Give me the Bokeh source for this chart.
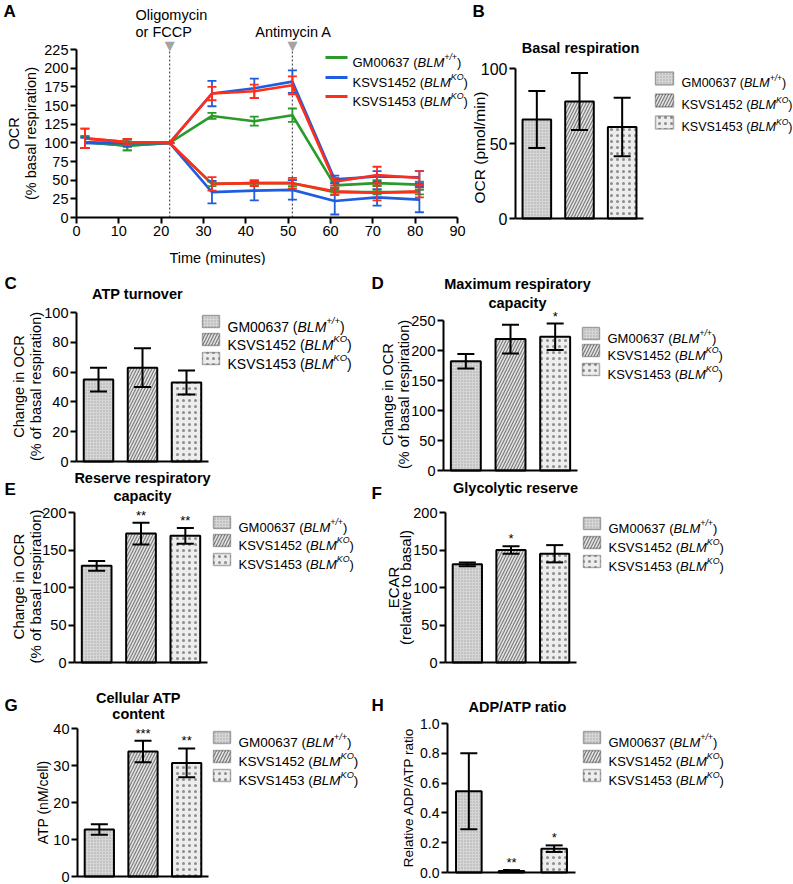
import math
from bokeh.plotting import figure
from bokeh.layouts import row, column
from bokeh.models import (Range1d, Label, BoxAnnotation, Whisker, TeeHead,
                          ColumnDataSource, FixedTicker, PrintfTickFormatter)
from bokeh.embed import file_html
from bokeh.resources import INLINE

FONT = "Liberation Sans"

# ---------------- data ----------------
cell_lines = ["GM00637", "KSVS1452", "KSVS1453"]
genotypes = ["+/+", "KO", "KO"]

# Panel A: OCR time course (% basal respiration)
time_min = [2, 12, 22, 32, 42, 51, 61, 71, 81]
gm_fccp = [101, 96, 100, 136, 129, 137, 43, 46, 44]
gm_fccp_err = [8, 6, 0, 4, 6, 9, 4, 4, 4]
gm_oligo = [101, 96, 100, 45, 46, 46, 34, 34, 34]
gm_oligo_err = [8, 6, 0, 3, 3, 4, 3, 3, 3]
k52_fccp = [100, 100, 100, 166, 173, 182, 51, 55, 54]
k52_fccp_err = [7, 5, 0, 17, 13, 15, 5, 7, 8]
k52_oligo = [100, 100, 100, 34, 36, 37, 22, 27, 24]
k52_oligo_err = [7, 5, 0, 15, 13, 13, 18, 11, 17]
k53_fccp = [106, 101, 100, 166, 169, 177, 48, 57, 53]
k53_fccp_err = [13, 4, 0, 9, 9, 12, 5, 11, 9]
k53_oligo = [106, 101, 100, 45, 46, 46, 35, 33, 35]
k53_oligo_err = [13, 4, 0, 9, 4, 7, 5, 10, 8]
injection_times = [22, 51]
a_xticks = [0, 10, 20, 30, 40, 50, 60, 70, 80, 90]
a_yticks = [0, 25, 50, 75, 100, 125, 150, 175, 200, 225]

# Panels B-H: bar charts (mean, error, significance)
basal = [66, 78, 61]
basal_err = [19, 19, 19.5]
basal_sig = ["", "", ""]
atp_turnover = [55, 63, 53]
atp_turnover_err = [8, 13, 8]
atp_turnover_sig = ["", "", ""]
max_resp = [182, 219, 223]
max_resp_err = [12, 24, 22]
max_resp_sig = ["", "", "*"]
reserve_resp = [129, 172, 169]
reserve_resp_err = [6.5, 14.5, 10.5]
reserve_resp_sig = ["", "**", "**"]
glyco_reserve = [131, 150, 145]
glyco_reserve_err = [2.5, 5, 11.5]
glyco_reserve_sig = ["", "*", ""]
atp_content = [12.7, 33.8, 30.7]
atp_content_err = [1.4, 2.9, 3.9]
atp_content_sig = ["", "***", "**"]
adp_atp = [0.545, 0.01, 0.16]
adp_atp_err = [0.255, 0.006, 0.022]
adp_atp_sig = ["", "**", "*"]

# ---------------- style ----------------
line_colors = ["#2a9a2a", "#1f5de0", "#ff2d1a"]
bar_fill = ["#d6d6d6", "#e3e3e3", "#ededed"]
bar_hatch = ["dot", "right_diagonal_line", "dot"]
bar_hcolor = ["#a5a5a5", "#7c7c7c", "#8e8e8e"]
bar_hscale = [3, 6, 6]
bar_hweight = [0.9, 1.2, 1.3]

W = {' ': 278, '(': 333, ')': 333, '+': 584, '/': 278, 'A': 667, 'B': 667, 'C': 722,
     'D': 722, 'E': 667, 'F': 611, 'G': 778, 'H': 722, 'I': 278, 'K': 667, 'L': 556,
     'M': 833, 'N': 722, 'O': 778, 'P': 667, 'R': 722, 'S': 667, 'T': 611, 'V': 667}


def tw(s, size):
    return sum(W.get(c, 556) for c in s) * size / 1000.0


def make_panel(fig_box, frame_box, xr, yr):
    """Figure whose frame fills the canvas; data box placed at frame_box (page px)."""
    fx0, fy0, fx1, fy1 = fig_box
    l, t, r, b = frame_box
    x0, x1 = xr
    y0, y1 = yr
    kx = (x1 - x0) / (r - l)
    ky = (y1 - y0) / (b - t)
    X = Range1d(x0 - (l - fx0) * kx, x1 + (fx1 - r) * kx)
    Y = Range1d(y0 - (fy1 - b) * ky, y1 + (t - fy0) * ky)
    p = figure(width=fx1 - fx0, height=fy1 - fy0, x_range=X, y_range=Y,
               output_backend="svg", toolbar_location=None,
               min_border_left=0, min_border_right=0, min_border_top=0, min_border_bottom=0)
    p.title.visible = False
    p.outline_line_color = None
    p.xgrid.visible = False
    p.ygrid.visible = False
    p.background_fill_color = "white"
    p.border_fill_color = "white"
    p.xaxis.fixed_location = y0
    p.xaxis.bounds = (x0, x1)
    p.yaxis.fixed_location = x0
    p.yaxis.bounds = (y0, y1)
    return p, (fx0, fy1)


def txt(p, fr, x, y, text, size, style="normal", align="left", baseline="middle",
        angle=0.0, color="black", font=FONT):
    l, b = fr
    p.add_layout(Label(x=x - l, y=b - y, x_units="screen", y_units="screen", text=text,
                       text_font=font, text_font_size=f"{size}px", text_font_style=style,
                       text_align=align, text_baseline=baseline, angle=angle,
                       text_color=color))


def style_axes(p, size, yticks, xticks=None, fmt=None):
    for ax in p.axis:
        ax.axis_line_width = 2
        ax.axis_line_color = "black"
        ax.major_tick_line_width = 2
        ax.major_tick_out = 6
        ax.major_tick_in = 0
        ax.minor_tick_out = 0
        ax.minor_tick_in = 0
        ax.major_label_text_font = FONT
        ax.major_label_text_font_size = f"{size}px"
        ax.major_label_text_color = "black"
        ax.major_label_standoff = 2
    p.yaxis[0].ticker = FixedTicker(ticks=yticks)
    if fmt:
        p.yaxis[0].formatter = PrintfTickFormatter(format=fmt)
    if xticks is None:
        xa = p.xaxis[0]
        xa.ticker = FixedTicker(ticks=[])
        xa.major_tick_out = 0
        xa.major_label_text_font_size = "0px"
    else:
        p.xaxis[0].ticker = FixedTicker(ticks=xticks)


def genotype_text(p, fr, x, yc, i, size):
    base = yc + 0.36 * size
    l, b = fr
    parts = [(cell_lines[i] + " (", "normal", size, 0),
             ("BLM", "italic", size, 0),
             (genotypes[i], "italic", size * 0.68, size * 0.42),
             (")", "normal", size, 0)]
    cx = x
    for s, st, sz, rise in parts:
        p.add_layout(Label(x=cx - l, y=b - base + rise, x_units="screen", y_units="screen",
                           text=s, text_font=FONT, text_font_size=f"{sz:.1f}px",
                           text_font_style=st, text_align="left",
                           text_baseline="alphabetic", text_color="black"))
        cx += tw(s, sz)


# ---------------- Panel A ----------------
pA, frA = make_panel((0, 0, 470, 265), (76, 49, 457, 217), (0, 90), (0, 225))
style_axes(pA, 14.5, a_yticks, a_xticks)
pA.segment(x0=injection_times, y0=[0, 0], x1=injection_times, y1=[225, 225],
           line_dash="2 2", line_color="#555555", line_width=1.2)
series = [(gm_fccp, gm_fccp_err, gm_oligo, gm_oligo_err),
          (k52_fccp, k52_fccp_err, k52_oligo, k52_oligo_err),
          (k53_fccp, k53_fccp_err, k53_oligo, k53_oligo_err)]
for i, (f, fe, o, oe) in enumerate(series):
    c = line_colors[i]
    for vals, errs in ((f, fe), (o, oe)):
        src = ColumnDataSource(dict(x=time_min, y=vals,
                                    lo=[v - e for v, e in zip(vals, errs)],
                                    hi=[v + e for v, e in zip(vals, errs)]))
        pA.line("x", "y", source=src, line_color=c, line_width=2.6)
        pA.add_layout(Whisker(source=src, base="x", upper="hi", lower="lo",
                              line_color=c, line_width=1.8, level="glyph",
                              upper_head=TeeHead(size=9, line_color=c, line_width=1.8),
                              lower_head=TeeHead(size=9, line_color=c, line_width=1.8)))
txt(pA, frA, 3, 11, "A", 17, "bold")
txt(pA, frA, 135, 14, "Oligomycin", 14.5)
txt(pA, frA, 135, 31, "or FCCP", 14.5)
txt(pA, frA, 293, 31, "Antimycin A", 14.5, align="center")
for tm in injection_times:
    pA.add_layout(Label(x=tm, x_units="data", y=frA[1] - 45, y_units="screen", text="▼",
                        text_font="DejaVu Sans", text_font_size="13px", text_align="center",
                        text_baseline="middle", text_color="#a3a3a3"))
txt(pA, frA, 13, 133, "OCR", 14.5, align="center", angle=math.pi / 2)
txt(pA, frA, 30, 133, "(% basal respiration)", 14.5, align="center", angle=math.pi / 2)
txt(pA, frA, 217, 257, "Time (minutes)", 14.5, align="center")
for i, yc in enumerate([57, 77, 96]):
    l, b = frA
    pA.add_layout(BoxAnnotation(left=325 - l, right=347 - l, top=b - yc + 1.5, bottom=b - yc - 1.5,
                                left_units="screen", right_units="screen", top_units="screen",
                                bottom_units="screen", fill_color=line_colors[i], fill_alpha=1,
                                line_color=None, level="overlay"))
    genotype_text(pA, frA, 352, yc, i, 13)


# ---------------- bar panels ----------------
def bar_panel(fig_box, frame_box, yr, yticks, means, errs, sig, tick_size, letter,
              titles, ylabels, legend, fmt=None, bar_w=0.67, cap=17):
    p, fr = make_panel(fig_box, frame_box, (0.5, 3.5), yr)
    style_axes(p, tick_size, yticks, None, fmt)
    src = ColumnDataSource(dict(x=[1, 2, 3], top=means,
                                lo=[m - e for m, e in zip(means, errs)],
                                hi=[m + e for m, e in zip(means, errs)],
                                fill=bar_fill, hatch=bar_hatch, hcolor=bar_hcolor,
                                hscale=bar_hscale, hweight=bar_hweight))
    p.vbar(x="x", top="top", width=bar_w, source=src, fill_color="fill", line_color="black",
           line_width=2, hatch_pattern="hatch", hatch_color="hcolor", hatch_scale="hscale",
           hatch_weight="hweight")
    p.add_layout(Whisker(source=src, base="x", upper="hi", lower="lo", line_color="black",
                         line_width=2, level="annotation",
                         upper_head=TeeHead(size=cap, line_color="black", line_width=2),
                         lower_head=TeeHead(size=cap, line_color="black", line_width=2)))
    for i in range(3):
        if sig[i]:
            p.add_layout(Label(x=i + 1, x_units="data", y=means[i] + errs[i], y_units="data",
                               y_offset=0, text=sig[i], text_font=FONT, text_font_size="13px",
                               text_align="center", text_baseline="bottom", text_color="black"))
    lx, ly, ltxt = letter
    txt(p, fr, lx, ly, ltxt, 17, "bold")
    for (s, x, y) in titles:
        txt(p, fr, x, y, s, 14.5, "bold", align="center")
    for (s, x, y, sz) in ylabels:
        txt(p, fr, x, y, s, sz, align="center", angle=math.pi / 2)
    bx, ys, lsz, bw, bh = legend
    l, b = fr
    for i, yc in enumerate(ys):
        p.add_layout(BoxAnnotation(left=bx - l, right=bx + bw - l, top=b - yc + bh / 2,
                                   bottom=b - yc - bh / 2, left_units="screen",
                                   right_units="screen", top_units="screen",
                                   bottom_units="screen", fill_color=bar_fill[i], fill_alpha=1,
                                   line_color="black", line_width=1.5,
                                   hatch_pattern=bar_hatch[i], hatch_color=bar_hcolor[i],
                                   hatch_scale=bar_hscale[i], hatch_weight=bar_hweight[i],
                                   level="overlay"))
        genotype_text(p, fr, bx + bw + 8, yc, i, lsz)
    return p


pB = bar_panel((470, 0, 793, 265), (515, 68, 643, 218), (0, 100), [0, 50, 100],
               basal, basal_err, basal_sig, 16, (472, 11, "B"),
               [("Basal respiration", 580, 47)],
               [("OCR (pmol/min)", 479, 147, 15.5)],
               (655, [78, 100, 122], 12.5, 18, 13))
pC = bar_panel((0, 265, 370, 469), (76, 312, 208, 461), (0, 100), [0, 20, 40, 60, 80, 100],
               atp_turnover, atp_turnover_err, atp_turnover_sig, 14.5, (4, 283, "C"),
               [("ATP turnover", 137, 293)],
               [("Change in OCR", 18, 386, 14.5), ("(% of basal respiration)", 35, 386, 14.5)],
               (202, [321, 339, 358], 14, 17, 12))
pD = bar_panel((370, 265, 793, 480), (443, 320, 577, 470), (0, 250), [0, 50, 100, 150, 200, 250],
               max_resp, max_resp_err, max_resp_sig, 14.5, (371, 283, "D"),
               [("Maximum respiratory", 517, 283), ("capacity", 517, 302)],
               [("Change in OCR", 387, 394, 14.5), ("(% of basal respiration)", 403, 394, 14.5)],
               (582, [333, 350, 369], 13, 17, 12))
pE = bar_panel((0, 469, 370, 680), (74, 512, 207, 662), (0, 200), [0, 50, 100, 150, 200],
               reserve_resp, reserve_resp_err, reserve_resp_sig, 14.5, (4, 489, "E"),
               [("Reserve respiratory", 142, 477), ("capacity", 142, 495)],
               [("Change in OCR", 18, 586, 15), ("(% of basal respiration)", 35, 586, 15)],
               (213, [522, 540, 559], 13, 17, 12))
pF = bar_panel((370, 480, 793, 680), (445, 512, 576, 662), (0, 200), [0, 50, 100, 150, 200],
               glyco_reserve, glyco_reserve_err, glyco_reserve_sig, 14.5, (371, 493, "F"),
               [("Glycolytic reserve", 515, 487)],
               [("ECAR", 393, 587, 15), ("(relative to basal)", 405, 587, 15)],
               (583, [523, 542, 561], 13, 17, 12))
pG = bar_panel((0, 680, 370, 884), (77, 728, 208, 876), (0, 40), [0, 10, 20, 30, 40],
               atp_content, atp_content_err, atp_content_sig, 14.5, (4, 705, "G"),
               [("Cellular ATP", 138, 697), ("content", 138, 713)],
               [("ATP (nM/cell)", 42, 802, 14)],
               (213, [737, 756, 775], 13.5, 17, 12))
pH = bar_panel((370, 680, 793, 884), (447, 723, 575, 872), (0, 1.0),
               [0.0, 0.2, 0.4, 0.6, 0.8, 1.0],
               adp_atp, adp_atp_err, adp_atp_sig, 14, (371, 705, "H"),
               [("ADP/ATP ratio", 517, 706)],
               [("Relative ADP/ATP ratio", 408, 797, 13.5)],
               (583, [737, 756, 775], 13, 17, 12), fmt="%.1f", bar_w=0.6)

layout = column(row(pA, pB), row(column(pC, pE, pG), column(pD, pF, pH)))
open("out.html", "w").write(file_html(layout, INLINE))
